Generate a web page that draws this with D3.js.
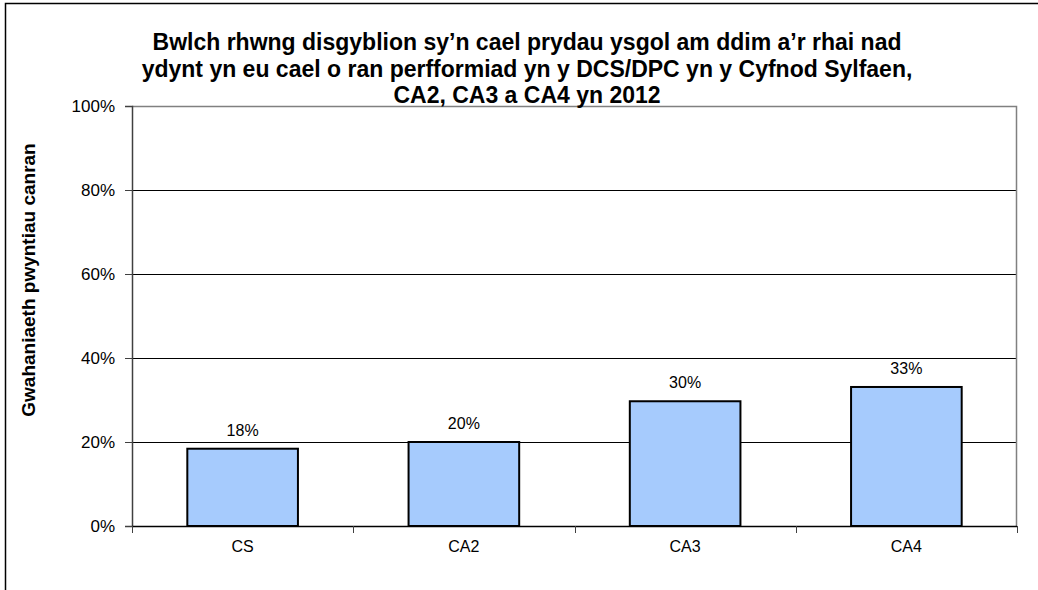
<!DOCTYPE html>
<html>
<head>
<meta charset="utf-8">
<script src="https://cdn.jsdelivr.net/npm/d3@7"></script>
<style>
  body { margin: 0; background: #fff; }
  svg text { font-family: "Liberation Sans", Arial, sans-serif; fill: #000; }
</style>
</head>
<body>
<div id="chart"></div>
<script>
// Chart data
// ==============================
var categories = ["CS", "CA2", "CA3", "CA4"];
var gapValues = [18.4, 20.0, 29.7, 33.1];
var yTicks = [0, 20, 40, 60, 80, 100];
var titleLines = [
  "Bwlch rhwng disgyblion sy’n cael prydau ysgol am ddim a’r rhai nad",
  "ydynt yn eu cael o ran perfformiad yn y DCS/DPC yn y Cyfnod Sylfaen,",
  "CA2, CA3 a CA4 yn 2012"
];
var yLabel = "Gwahaniaeth pwyntiau canran";

// SVG area
// ==============================
var svgWidth = 1038;
var svgHeight = 590;

var margin = { top: 106, right: 21, bottom: 64, left: 132 };
var width = svgWidth - margin.left - margin.right;
var height = svgHeight - margin.top - margin.bottom;

var svg = d3.select("#chart")
  .append("svg")
  .attr("width", svgWidth)
  .attr("height", svgHeight);

// outer chart border (runs past the picture on right and bottom)
svg.append("rect")
  .attr("x", 5.5)
  .attr("y", 3.5)
  .attr("width", 1200)
  .attr("height", 800)
  .attr("fill", "none")
  .attr("stroke", "#000")
  .attr("stroke-width", 1.5);

var chartGroup = svg.append("g")
  .attr("transform", `translate(${margin.left}, ${margin.top})`);

// Scales
// ==============================
var xScale = d3.scaleBand()
  .domain(categories)
  .range([0, width])
  .paddingInner(0.5)
  .paddingOuter(0.25);

var yScale = d3.scaleLinear()
  .domain([0, 100])
  .range([height, 0]);

// Gridlines
// ==============================
chartGroup.selectAll(".grid")
  .data(yTicks.filter(d => d > 0 && d < 100))
  .join("line")
  .attr("class", "grid")
  .attr("x1", 0)
  .attr("x2", width)
  .attr("y1", d => Math.round(yScale(d)) + 0.5)
  .attr("y2", d => Math.round(yScale(d)) + 0.5)
  .attr("stroke", "#000")
  .attr("stroke-width", 1);

// plot area border (top and right)
chartGroup.append("path")
  .attr("d", `M0,0.5H${width - 0.5}V${height}`)
  .attr("fill", "none")
  .attr("stroke", "#808080")
  .attr("stroke-width", 1.5);

// Bars
// ==============================
chartGroup.selectAll(".bar")
  .data(gapValues)
  .join("rect")
  .attr("class", "bar")
  .attr("x", (d, i) => xScale(categories[i]))
  .attr("y", d => yScale(d))
  .attr("width", xScale.bandwidth())
  .attr("height", d => height - yScale(d))
  .attr("fill", "#a6cbfd")
  .attr("stroke", "#000")
  .attr("stroke-width", 2);

// value labels
chartGroup.selectAll(".valueLabel")
  .data(gapValues)
  .join("text")
  .attr("class", "valueLabel")
  .attr("x", (d, i) => xScale(categories[i]) + xScale.bandwidth() / 2)
  .attr("y", d => yScale(d) - 13)
  .attr("text-anchor", "middle")
  .style("font-size", "16px")
  .text(d => Math.round(d) + "%");

// Axes
// ==============================
var yAxis = d3.axisLeft(yScale)
  .tickValues(yTicks)
  .tickSize(7)
  .tickPadding(10)
  .tickFormat(d => d + "%");

var yAxisGroup = chartGroup.append("g").call(yAxis);
yAxisGroup.select(".domain").attr("stroke", "#404040").attr("stroke-width", 1.5);
yAxisGroup.selectAll(".tick line").attr("stroke", "#404040");
yAxisGroup.selectAll("text")
  .style("font-size", "17px")
  .attr("fill", "#000");

var xAxis = d3.axisBottom(xScale)
  .tickSize(0)
  .tickPadding(15);

var xAxisGroup = chartGroup.append("g")
  .attr("transform", `translate(0, ${height})`)
  .call(xAxis);
xAxisGroup.select(".domain")
  .attr("d", `M0,0.5H${width}`)
  .attr("stroke", "#000")
  .attr("stroke-width", 1.5);
xAxisGroup.selectAll("text")
  .style("font-size", "16px")
  .attr("fill", "#000");

// category boundary ticks
xAxisGroup.selectAll(".boundary")
  .data(d3.range(categories.length + 1))
  .join("line")
  .attr("class", "boundary")
  .attr("x1", i => Math.round(i * xScale.step()) + 0.5)
  .attr("x2", i => Math.round(i * xScale.step()) + 0.5)
  .attr("y1", 0)
  .attr("y2", 7)
  .attr("stroke", "#404040");

// Titles
// ==============================
svg.append("text")
  .attr("transform", "translate(35, 280) rotate(-90)")
  .attr("text-anchor", "middle")
  .style("font-size", "19px")
  .style("font-weight", "bold")
  .text(yLabel);

svg.selectAll(".titleLine")
  .data(titleLines)
  .join("text")
  .attr("class", "titleLine")
  .attr("x", 527)
  .attr("y", (d, i) => 50 + i * 26.5)
  .attr("text-anchor", "middle")
  .style("font-size", "23px")
  .style("font-weight", "bold")
  .text(d => d);
</script>
</body>
</html>
